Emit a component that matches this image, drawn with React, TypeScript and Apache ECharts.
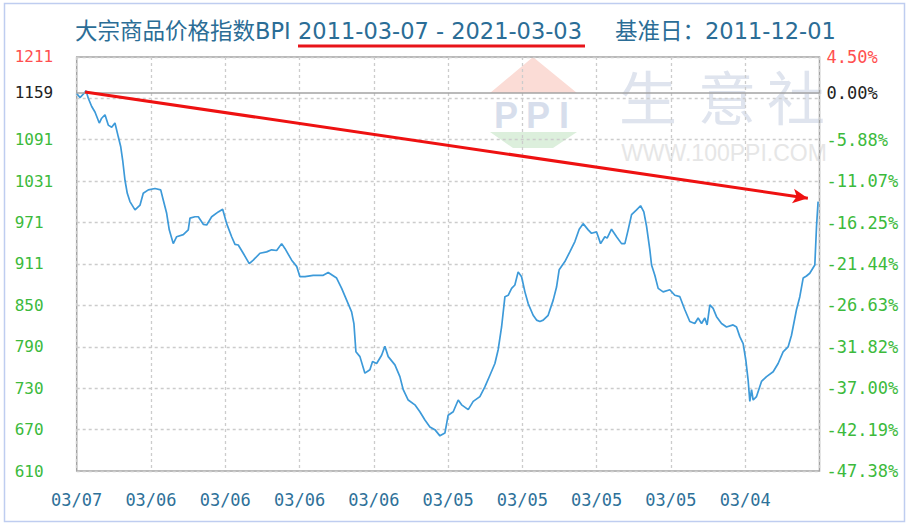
import React, { useEffect, useRef } from "react";
import * as echarts from "echarts";

// ---- data ----
const titleMain = "大宗商品价格指数BPI";
const titleRange = "2011-03-07 - 2021-03-03";
const titleBase = "基准日：2011-12-01";

const xLabels = ["03/07", "03/06", "03/06", "03/06", "03/06", "03/05", "03/05", "03/05", "03/05", "03/04"];

// grid lines (equal divisions between 610 and 1211)
const yGridValues = [610, 670.1, 730.2, 790.3, 850.4, 910.5, 970.6, 1030.7, 1090.8, 1150.9, 1211];
// label positions (base value 1159 replaces the 1150.9 label)
const yLabelValues = [610, 670.1, 730.2, 790.3, 850.4, 910.5, 970.6, 1030.7, 1090.8, 1159, 1211];
const leftLabels = ["610", "670", "730", "790", "850", "911", "971", "1031", "1091", "1159", "1211"];
const rightLabels = ["-47.38%", "-42.19%", "-37.00%", "-31.82%", "-26.63%", "-21.44%", "-16.25%", "-11.07%", "-5.88%", "0.00%", "4.50%"];
const labelTones = ["g", "g", "g", "g", "g", "g", "g", "g", "g", "k", "r"];

const baseValue = 1159;

// years elapsed since 2011-03-07
const years = [
  0.0, 0.044, 0.098, 0.125, 0.156, 0.202, 0.246, 0.304, 0.336, 0.381, 0.425, 0.471, 0.515, 0.56, 0.592, 0.619,
  0.65, 0.681, 0.717, 0.785, 0.853, 0.896, 0.964, 1.054, 1.131, 1.166, 1.211, 1.246, 1.3, 1.346, 1.435, 1.502,
  1.525, 1.592, 1.637, 1.704, 1.75, 1.817, 1.906, 1.965, 2.019, 2.086, 2.131, 2.175, 2.242, 2.323, 2.377, 2.467,
  2.557, 2.624, 2.692, 2.759, 2.803, 2.894, 2.961, 3.005, 3.073, 3.184, 3.319, 3.386, 3.499, 3.567, 3.634, 3.701,
  3.732, 3.759, 3.813, 3.88, 3.947, 3.983, 4.038, 4.105, 4.149, 4.194, 4.284, 4.351, 4.396, 4.463, 4.553, 4.62,
  4.688, 4.755, 4.822, 4.89, 4.957, 5.001, 5.069, 5.136, 5.182, 5.271, 5.338, 5.428, 5.495, 5.563, 5.63, 5.674,
  5.72, 5.765, 5.809, 5.855, 5.899, 5.943, 5.989, 6.034, 6.078, 6.145, 6.191, 6.236, 6.28, 6.347, 6.415, 6.46,
  6.495, 6.572, 6.639, 6.707, 6.765, 6.818, 6.886, 6.931, 6.999, 7.053, 7.11, 7.141, 7.2, 7.268, 7.335, 7.38,
  7.424, 7.47, 7.537, 7.591, 7.635, 7.672, 7.716, 7.739, 7.783, 7.828, 7.895, 7.985, 8.052, 8.12, 8.187, 8.254,
  8.321, 8.366, 8.412, 8.456, 8.487, 8.524, 8.568, 8.614, 8.681, 8.748, 8.837, 8.883, 8.927, 8.972, 9.008, 9.039,
  9.062, 9.085, 9.107, 9.152, 9.219, 9.287, 9.376, 9.443, 9.51, 9.577, 9.623, 9.69, 9.735, 9.78, 9.825, 9.869,
  9.937, 9.96, 9.981,
];
const bpi = [
  1158, 1152, 1158, 1162, 1151, 1139, 1131, 1115, 1122, 1127, 1112, 1109, 1115, 1095, 1081, 1061,
  1032, 1013, 1001, 989, 996, 1013, 1018, 1020, 1018, 1003, 984, 960, 940, 950, 953, 960,
  977, 979, 979, 968, 967, 979, 986, 990, 969, 950, 939, 938, 926, 911, 916, 926,
  928, 931, 930, 940, 933, 916, 907, 892, 892, 894, 894, 898, 890, 875, 858, 841,
  824, 783, 776, 752, 757, 769, 766, 778, 791, 776, 764, 747, 728, 713, 706, 696,
  684, 674, 670, 661, 665, 691, 696, 713, 706, 699, 711, 718, 732, 749, 766, 786,
  819, 863, 865, 875, 880, 899, 892, 870, 853, 836, 829, 827, 829, 836, 858, 877,
  902, 914, 928, 943, 961, 969, 960, 955, 957, 940, 950, 948, 961, 950, 940, 940,
  960, 982, 989, 995, 986, 965, 931, 909, 894, 875, 870, 873, 865, 863, 844, 827,
  824, 832, 824, 832, 822, 851, 846, 834, 824, 819, 822, 819, 805, 795, 771, 742,
  711, 728, 713, 718, 740, 747, 754, 766, 783, 790, 807, 844, 863, 890, 893, 897,
  909, 965, 1001,
];

// red annotation arrow (in data units)
const arrowFrom = [0.112, 1160];
const arrowTo = [9.843, 1006];

const toneColors: Record<string, string> = { g: "#3cba3c", k: "#222222", r: "#ff4f4f" };

function labelIndex(v: number) {
  let best = 0;
  let d = Infinity;
  yLabelValues.forEach((lv, i) => {
    const dd = Math.abs(lv - v);
    if (dd < d) {
      d = dd;
      best = i;
    }
  });
  return best;
}

export default function App() {
  const ref = useRef<HTMLDivElement>(null);

  useEffect(() => {
    if (!ref.current) return;
    const chart = echarts.init(ref.current, undefined, { renderer: "svg" });
    const mono = "DejaVu Sans Mono, monospace";
    const titleFont = "DejaVu Sans, Noto Sans CJK SC, sans-serif";
    const titleColor = "#2b6d96";

    const option: any = {
      animation: false,
      backgroundColor: "#ffffff",
      grid: {
        left: 76.7,
        right: 92.5,
        top: 56.9,
        bottom: 58,
        show: true,
        borderColor: "#a3a3a3",
        borderWidth: 1.5,
        containLabel: false,
        outerBoundsMode: "none",
      },
      xAxis: {
        type: "value",
        min: 0,
        max: 10,
        interval: 1,
        axisLine: { show: false },
        axisTick: { show: false },
        splitLine: { show: true, lineStyle: { color: "#cccccc", type: [3, 3], width: 1.3 } },
        axisLabel: {
          margin: 20,
          fontFamily: mono,
          fontSize: 17,
          color: "#2e7199",
          formatter: (v: number) => xLabels[Math.round(v)] ?? "",
        },
      },
      yAxis: [
        {
          type: "value",
          min: 610,
          max: 1211,
          position: "left",
          axisLine: { show: false },
          axisTick: { show: false, customValues: yGridValues },
          splitLine: { show: true, lineStyle: { color: "#cccccc", type: [3, 3], width: 1.3 } },
          axisLabel: {
            customValues: yLabelValues,
            showMinLabel: true,
            showMaxLabel: true,
            align: "left",
            margin: 62,
            fontFamily: mono,
            fontSize: 16,
            formatter: (v: number) => leftLabels[labelIndex(Number(v))],
            color: (v: any) => toneColors[labelTones[labelIndex(Number(v))]],
          },
        },
        {
          type: "value",
          min: 610,
          max: 1211,
          position: "right",
          axisLine: { show: false },
          axisTick: { show: false, customValues: yGridValues },
          splitLine: { show: false },
          axisLabel: {
            customValues: yLabelValues,
            showMinLabel: true,
            showMaxLabel: true,
            align: "left",
            margin: 7,
            fontFamily: mono,
            fontSize: 17,
            formatter: (v: number) => rightLabels[labelIndex(Number(v))],
            color: (v: any) => toneColors[labelTones[labelIndex(Number(v))]],
          },
        },
      ],
      graphic: [
        // outer frame
        {
          type: "rect",
          z: -20,
          shape: { x: 4.5, y: 3.5, width: 900, height: 518 },
          style: { fill: "none", stroke: "#bfcdf0", lineWidth: 1.5 },
        },
        // watermark logo
        {
          type: "polygon",
          z: -10,
          shape: { points: [[533, 57], [490, 93], [577, 93]] },
          style: { fill: "#fbdcd6" },
        },
        {
          type: "polygon",
          z: -10,
          shape: { points: [[490, 132], [577, 132], [553, 148], [513, 148]] },
          style: { fill: "#dcefdc" },
        },
        { type: "text", z: -10, x: 494, y: 115, style: { text: "P", font: "bold 36px Liberation Sans", fill: "#d7deec", verticalAlign: "middle" } },
        { type: "text", z: -10, x: 526, y: 115, style: { text: "P", font: "bold 36px Liberation Sans", fill: "#d7deec", verticalAlign: "middle" } },
        { type: "text", z: -10, x: 559, y: 115, style: { text: "I", font: "bold 36px Liberation Sans", fill: "#d7deec", verticalAlign: "middle" } },
        { type: "text", z: -10, x: 648, y: 95, style: { text: "生", font: "58px Noto Sans CJK SC", fill: "#dfe4ee", align: "center", verticalAlign: "middle" } },
        { type: "text", z: -10, x: 727, y: 95, style: { text: "意", font: "58px Noto Sans CJK SC", fill: "#dfe4ee", align: "center", verticalAlign: "middle" } },
        { type: "text", z: -10, x: 796, y: 95, style: { text: "社", font: "58px Noto Sans CJK SC", fill: "#dfe4ee", align: "center", verticalAlign: "middle" } },
        { type: "text", z: -10, x: 724, y: 153, style: { text: "WWW.100PPI.COM", font: "23px Liberation Sans", fill: "#e6e6e6", align: "center", verticalAlign: "middle" } },
        // title
        { type: "text", x: 75, y: 31, style: { text: titleMain, fontSize: 22.5, fontFamily: titleFont, fill: titleColor, verticalAlign: "middle" } },
        { type: "text", x: 298, y: 31, style: { text: titleRange, fontSize: 22.5, fontFamily: titleFont, fill: titleColor, verticalAlign: "middle" } },
        { type: "text", x: 615, y: 31, style: { text: titleBase, fontSize: 22.5, fontFamily: titleFont, fill: titleColor, verticalAlign: "middle" } },
        // red underline
        { type: "rect", shape: { x: 298, y: 44.5, width: 287, height: 3 }, style: { fill: "#e8141a" } },
      ],
      series: [
        {
          type: "line",
          showSymbol: false,
          symbol: "none",
          silent: true,
          data: years.map((t, i) => [t, bpi[i]]),
          lineStyle: { color: "#3d9ad9", width: 1.7 },
          markLine: {
            silent: true,
            animation: false,
            symbol: ["none", "none"],
            label: { show: false },
            emphasis: { disabled: true },
            data: [
              {
                yAxis: baseValue,
                lineStyle: { color: "#a3a3a3", type: "solid", width: 1.5 },
              },
              [
                { coord: arrowFrom, symbol: "none", lineStyle: { color: "#ee1111", type: "solid", width: 3 } },
                { coord: arrowTo, symbol: "arrow", symbolSize: [11, 15] },
              ],
            ],
          },
          z: 3,
        },
      ],
    };

    chart.setOption(option);
    return () => chart.dispose();
  }, []);

  return (
    <div
      ref={ref}
      style={{ position: "fixed", left: 0, top: 0, width: 912, height: 529, background: "#fff" }}
    />
  );
}
